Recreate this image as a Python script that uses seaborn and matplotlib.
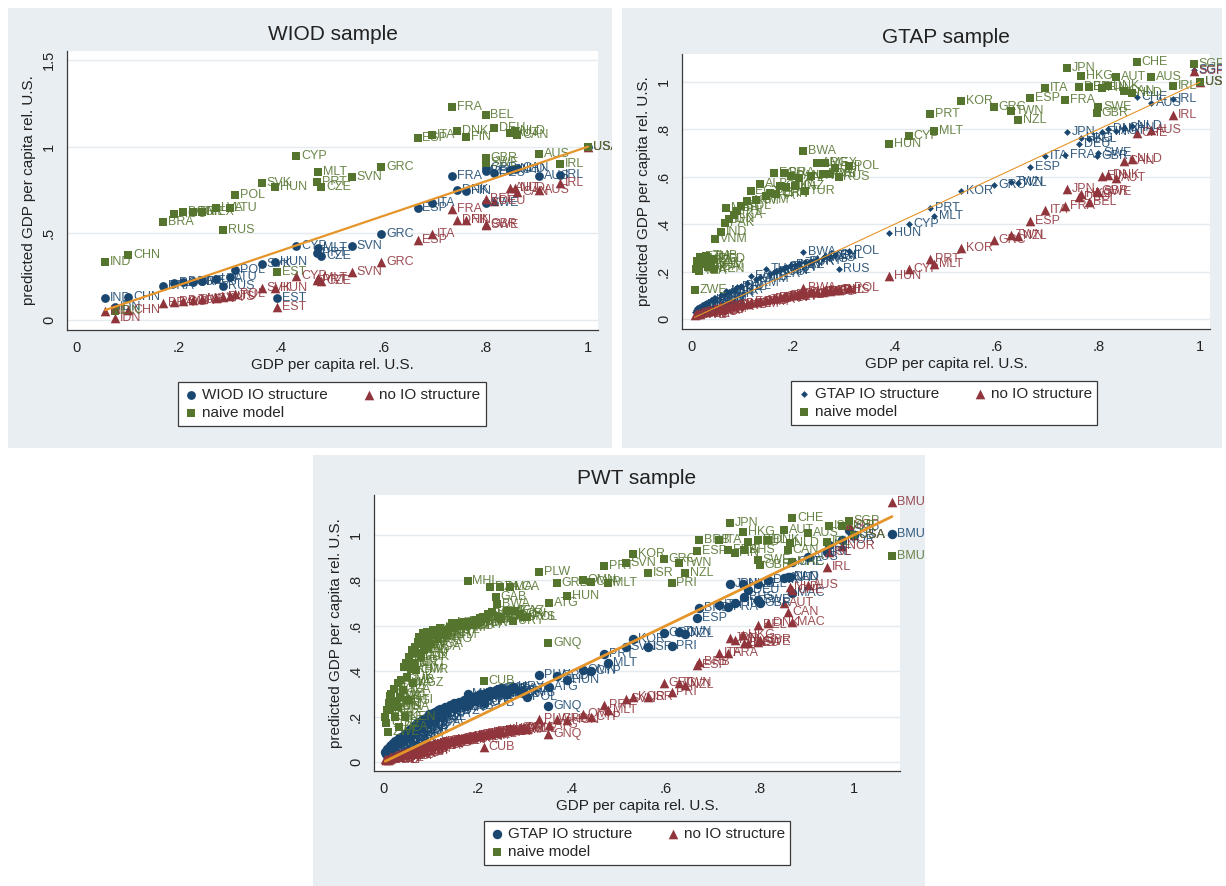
import matplotlib
matplotlib.use('Agg')
import matplotlib.pyplot as plt
import seaborn as sns
from matplotlib.patches import Rectangle
from matplotlib.transforms import Bbox, TransformedBbox

sns.set_theme(style='white')
plt.rcParams['font.family'] = ['Liberation Sans', 'DejaVu Sans']

######  Data

# WIOD sample
wiod_iso = ['IND', 'IDN', 'CHN', 'BRA', 'ROU', 'BGR', 'TUR', 'MEX', 'LVA', 'RUS', 'LTU', 'POL',
            'SVK', 'HUN', 'EST', 'CYP', 'PRT', 'MLT', 'CZE', 'SVN', 'GRC', 'ESP', 'ITA', 'FRA',
            'DNK', 'FIN', 'GBR', 'SWE', 'BEL', 'DEU', 'AUT', 'NLD', 'CAN', 'AUS', 'IRL', 'USA']
wiod_gdp = [0.057, 0.076, 0.102, 0.170, 0.191, 0.209, 0.228, 0.247, 0.274, 0.287, 0.300, 0.311,
            0.363, 0.389, 0.392, 0.430, 0.470, 0.472, 0.479, 0.539, 0.596, 0.667, 0.696, 0.735,
            0.745, 0.762, 0.800, 0.800, 0.800, 0.817, 0.847, 0.857, 0.862, 0.904, 0.946, 1.000]
wiod_io = [0.125, 0.075, 0.135, 0.198, 0.215, 0.221, 0.221, 0.225, 0.237, 0.198, 0.250, 0.287,
           0.325, 0.337, 0.125, 0.427, 0.385, 0.413, 0.371, 0.427, 0.494, 0.644, 0.677, 0.833,
           0.748, 0.744, 0.875, 0.673, 0.860, 0.846, 0.865, 0.870, 0.875, 0.833, 0.837, 1.000]
wiod_noio = [0.052, 0.013, 0.060, 0.096, 0.106, 0.112, 0.115, 0.119, 0.125, 0.131, 0.140, 0.148,
             0.187, 0.187, 0.077, 0.254, 0.231, 0.240, 0.225, 0.275, 0.333, 0.463, 0.498, 0.638,
             0.577, 0.577, 0.554, 0.548, 0.700, 0.687, 0.760, 0.760, 0.740, 0.750, 0.788, 1.000]
wiod_naive = [0.333, 0.050, 0.375, 0.567, 0.610, 0.621, 0.621, 0.625, 0.644, 0.519, 0.644, 0.721,
              0.788, 0.769, 0.279, 0.946, 0.798, 0.852, 0.767, 0.823, 0.881, 1.052, 1.067, 1.229,
              1.090, 1.058, 0.933, 0.905, 1.183, 1.110, 1.077, 1.090, 1.067, 0.960, 0.900, 1.000]

# GTAP sample
gtap_iso = ['ZWE', 'MWI', 'MOZ', 'TZA', 'ETH', 'UGA', 'MDG', 'ZMB', 'NGA', 'KHM', 'BGD', 'KEN',
            'VNM', 'IND', 'PAK', 'MAR', 'IDN', 'LKA', 'PHL', 'BOL', 'ARM', 'EGY', 'GTM', 'ALB',
            'THA', 'PER', 'ECU', 'CHN', 'COL', 'BRA', 'TUN', 'PAN', 'KAZ', 'ZAF', 'BWA', 'TUR',
            'URY', 'ARG', 'MYS', 'MEX', 'CRI', 'CHL', 'RUS', 'POL',
            'HUN', 'CYP', 'PRT', 'MLT', 'KOR', 'GRC', 'TWN', 'NZL', 'ESP', 'ITA', 'FRA', 'JPN',
            'DEU', 'HKG', 'BEL', 'GBR', 'SWE', 'FIN', 'DNK', 'AUT', 'CAN', 'NLD', 'CHE', 'AUS',
            'IRL', 'SGP', 'USA']
gtap_gdp = [0.007, 0.010, 0.012, 0.015, 0.018, 0.021, 0.025, 0.030, 0.034, 0.040, 0.044, 0.046,
            0.048, 0.059, 0.067, 0.069, 0.075, 0.085, 0.090, 0.098, 0.110, 0.117, 0.128, 0.136,
            0.147, 0.155, 0.163, 0.167, 0.175, 0.182, 0.186, 0.197, 0.205, 0.213, 0.220, 0.224,
            0.236, 0.247, 0.259, 0.263, 0.274, 0.282, 0.290, 0.310,
            0.389, 0.428, 0.469, 0.477, 0.530, 0.595, 0.628, 0.643, 0.666, 0.695, 0.735, 0.739,
            0.762, 0.766, 0.781, 0.797, 0.800, 0.808, 0.820, 0.835, 0.850, 0.866, 0.876, 0.904,
            0.946, 0.988, 1.000]
gtap_io = [0.030, 0.040, 0.045, 0.050, 0.045, 0.058, 0.060, 0.066, 0.070, 0.080, 0.075, 0.088,
           0.090, 0.100, 0.105, 0.118, 0.112, 0.122, 0.134, 0.138, 0.150, 0.183, 0.168, 0.178,
           0.211, 0.192, 0.198, 0.204, 0.208, 0.214, 0.218, 0.226, 0.230, 0.236, 0.281, 0.240,
           0.246, 0.252, 0.256, 0.264, 0.266, 0.272, 0.211, 0.288,
           0.365, 0.400, 0.470, 0.435, 0.538, 0.566, 0.576, 0.572, 0.643, 0.687, 0.690, 0.787,
           0.737, 0.765, 0.760, 0.688, 0.702, 0.790, 0.800, 0.793, 0.805, 0.815, 0.937, 0.911,
           0.930, 1.050, 1.000]
gtap_noio = [0.015, 0.020, 0.022, 0.025, 0.020, 0.028, 0.030, 0.032, 0.035, 0.038, 0.040, 0.045,
             0.043, 0.050, 0.052, 0.055, 0.055, 0.058, 0.060, 0.062, 0.065, 0.070, 0.072, 0.075,
             0.080, 0.085, 0.088, 0.090, 0.092, 0.095, 0.097, 0.100, 0.102, 0.105, 0.130, 0.110,
             0.112, 0.115, 0.116, 0.118, 0.120, 0.122, 0.124, 0.130,
             0.180, 0.211, 0.253, 0.232, 0.299, 0.333, 0.355, 0.351, 0.412, 0.459, 0.478, 0.548,
             0.513, 0.527, 0.492, 0.541, 0.534, 0.604, 0.608, 0.597, 0.667, 0.674, 0.785, 0.797,
             0.860, 1.046, 1.000]
gtap_naive = [0.124, 0.211, 0.245, 0.204, 0.260, 0.232, 0.253, 0.267, 0.218, 0.230, 0.255, 0.210,
              0.337, 0.369, 0.407, 0.468, 0.421, 0.440, 0.455, 0.478, 0.500, 0.541, 0.501, 0.569,
              0.520, 0.530, 0.614, 0.527, 0.560, 0.618, 0.555, 0.604, 0.562, 0.597, 0.709, 0.538,
              0.604, 0.660, 0.611, 0.660, 0.611, 0.639, 0.600, 0.646,
              0.737, 0.772, 0.867, 0.794, 0.920, 0.895, 0.878, 0.840, 0.934, 0.973, 0.924, 1.060,
              0.979, 1.025, 0.979, 0.871, 0.895, 0.973, 0.983, 1.021, 0.960, 0.955, 1.084, 1.020,
              0.983, 1.074, 1.000]

# PWT sample
pwt_iso = ['LBR', 'COD', 'BDI', 'ZWE', 'CAF', 'NER', 'MWI', 'MOZ', 'ETH', 'GIN', 'TGO', 'SLE',
           'MDG', 'UGA', 'RWA', 'BFA', 'MLI', 'GMB', 'TZA', 'NPL', 'KEN', 'BEN', 'TJK', 'HTI',
           'BGD', 'KHM', 'SEN', 'KGZ', 'MRT', 'LAO', 'CMR', 'YEM', 'ZMB', 'VNM', 'PAK', 'CIV',
           'NIC', 'IND', 'SDN', 'UZB', 'MDA', 'HND', 'NGA', 'COG', 'PHL', 'BOL', 'MNG', 'IDN',
           'LKA', 'GTM', 'SWZ', 'EGY', 'MAR', 'ARM', 'GEO', 'SLV', 'JAM', 'FJI', 'ALB', 'MHL',
           'ECU', 'CHN', 'PRY', 'DOM', 'TUN', 'PER', 'THA', 'CUB', 'COL', 'BLZ', 'DZA', 'BRA',
           'GAB', 'BWA', 'SRB', 'DMA', 'ZAF', 'MEX', 'LCA', 'URY', 'KAZ', 'CRI', 'MYS', 'POL',
           'PLW', 'GNQ', 'ATG', 'GRD', 'HUN', 'OMN', 'CYP', 'PRT', 'MLT', 'SVN', 'KOR', 'ISR',
           'GRC', 'PRI', 'TWN', 'NZL', 'ESP', 'BRB', 'ITA', 'FRA', 'JPN', 'FIN', 'HKG', 'BHS',
           'DEU', 'SWE', 'BEL', 'GBR', 'DNK', 'AUT', 'CAN', 'NLD', 'MAC', 'CHE', 'AUS', 'IRL',
           'ISL', 'NOR', 'SGP', 'USA', 'BMU']
pwt_gdp = [0.003, 0.005, 0.006, 0.008, 0.010, 0.012, 0.014, 0.016, 0.018, 0.020, 0.022, 0.024,
           0.026, 0.029, 0.031, 0.033, 0.035, 0.037, 0.040, 0.042, 0.045, 0.047, 0.049, 0.052,
           0.054, 0.057, 0.060, 0.062, 0.064, 0.066, 0.068, 0.070, 0.072, 0.075, 0.078, 0.080,
           0.083, 0.086, 0.089, 0.091, 0.094, 0.097, 0.100, 0.104, 0.108, 0.112, 0.116, 0.120,
           0.125, 0.130, 0.135, 0.140, 0.145, 0.150, 0.155, 0.160, 0.165, 0.170, 0.175, 0.178,
           0.182, 0.186, 0.190, 0.195, 0.200, 0.205, 0.210, 0.213, 0.218, 0.222, 0.226, 0.230,
           0.238, 0.240, 0.242, 0.247, 0.250, 0.263, 0.268, 0.275, 0.280, 0.290, 0.297, 0.305,
           0.331, 0.350, 0.352, 0.368, 0.389, 0.423, 0.440, 0.469, 0.477, 0.515, 0.530, 0.561,
           0.595, 0.612, 0.628, 0.641, 0.666, 0.670, 0.712, 0.733, 0.737, 0.746, 0.765, 0.767,
           0.775, 0.796, 0.796, 0.800, 0.817, 0.851, 0.859, 0.863, 0.868, 0.869, 0.903, 0.943,
           0.947, 0.975, 0.989, 1.000, 1.081]
pwt_io = [0.045, 0.035, 0.055, 0.040, 0.060, 0.050, 0.070, 0.075, 0.062, 0.085, 0.070, 0.090,
          0.078, 0.095, 0.084, 0.105, 0.090, 0.112, 0.098, 0.120, 0.106, 0.128, 0.115, 0.130,
          0.140, 0.122, 0.150, 0.135, 0.156, 0.162, 0.140, 0.170, 0.158, 0.176, 0.150, 0.182,
          0.188, 0.160, 0.195, 0.200, 0.172, 0.210, 0.185, 0.215, 0.222, 0.196, 0.228, 0.235,
          0.212, 0.240, 0.226, 0.250, 0.236, 0.258, 0.244, 0.265, 0.255, 0.272, 0.248, 0.299,
          0.262, 0.285, 0.270, 0.290, 0.278, 0.300, 0.286, 0.260, 0.305, 0.292, 0.312, 0.298,
          0.316, 0.306, 0.320, 0.310, 0.326, 0.300, 0.319, 0.330, 0.322, 0.310, 0.305, 0.287,
          0.385, 0.246, 0.328, 0.378, 0.363, 0.404, 0.400, 0.475, 0.438, 0.507, 0.540, 0.507,
          0.566, 0.510, 0.574, 0.562, 0.635, 0.676, 0.690, 0.684, 0.782, 0.699, 0.784, 0.728,
          0.757, 0.713, 0.784, 0.699, 0.801, 0.809, 0.816, 0.816, 0.743, 0.882, 0.904, 0.926,
          0.956, 0.978, 1.020, 1.000, 1.003]
pwt_noio = [0.012, 0.008, 0.015, 0.010, 0.015, 0.012, 0.020, 0.018, 0.022, 0.020, 0.025, 0.024,
            0.028, 0.030, 0.026, 0.032, 0.034, 0.030, 0.036, 0.038, 0.040, 0.035, 0.042, 0.044,
            0.040, 0.046, 0.048, 0.044, 0.050, 0.052, 0.054, 0.050, 0.056, 0.058, 0.060, 0.062,
            0.064, 0.066, 0.068, 0.070, 0.072, 0.074, 0.076, 0.078, 0.080, 0.082, 0.084, 0.086,
            0.088, 0.090, 0.092, 0.094, 0.096, 0.098, 0.100, 0.102, 0.104, 0.106, 0.108, 0.103,
            0.110, 0.112, 0.114, 0.116, 0.118, 0.120, 0.122, 0.066, 0.124, 0.126, 0.128, 0.130,
            0.130, 0.132, 0.134, 0.136, 0.138, 0.140, 0.150, 0.142, 0.145, 0.148, 0.150, 0.147,
            0.187, 0.122, 0.162, 0.191, 0.184, 0.209, 0.200, 0.250, 0.228, 0.279, 0.287, 0.287,
            0.346, 0.309, 0.349, 0.340, 0.426, 0.441, 0.478, 0.478, 0.544, 0.537, 0.559, 0.522,
            0.522, 0.529, 0.603, 0.537, 0.610, 0.699, 0.662, 0.772, 0.618, 0.757, 0.779, 0.860,
            0.926, 0.950, 1.044, 1.000, 1.147]
pwt_naive = [0.199, 0.170, 0.230, 0.132, 0.260, 0.228, 0.290, 0.301, 0.240, 0.257, 0.320, 0.199,
             0.270, 0.243, 0.346, 0.154, 0.287, 0.360, 0.316, 0.419, 0.199, 0.434, 0.375, 0.272,
             0.463, 0.410, 0.493, 0.346, 0.434, 0.507, 0.404, 0.480, 0.530, 0.551, 0.463, 0.520,
             0.566, 0.493, 0.540, 0.574, 0.507, 0.551, 0.520, 0.581, 0.560, 0.566, 0.540, 0.588,
             0.570, 0.560, 0.581, 0.595, 0.610, 0.590, 0.605, 0.610, 0.600, 0.615, 0.600, 0.797,
             0.610, 0.618, 0.605, 0.625, 0.610, 0.635, 0.640, 0.356, 0.630, 0.650, 0.769, 0.662,
             0.728, 0.696, 0.640, 0.769, 0.630, 0.663, 0.769, 0.620, 0.666, 0.650, 0.640, 0.640,
             0.835, 0.525, 0.699, 0.787, 0.732, 0.801, 0.794, 0.863, 0.787, 0.875, 0.915, 0.831,
             0.893, 0.790, 0.875, 0.834, 0.929, 0.978, 0.978, 0.934, 1.051, 0.919, 1.015, 0.934,
             0.971, 0.890, 0.978, 0.868, 0.978, 1.022, 0.934, 0.963, 0.880, 1.076, 1.007, 0.970,
             1.040, 1.040, 1.063, 1.000, 0.907]

# Stata s2color-like colours
c_io = '#1a476f'
c_noio = '#90353b'
c_naive = '#55752f'
c_line = '#e5952a'
c_bg = '#e8eef2'
c_grid = '#e4eaee'

W, H = 1226, 886
fig = plt.figure(figsize=(W / 100, H / 100), dpi=100)


def px_rect(x0, y0, x1, y1):
    # pixel box (top-left origin) -> figure fraction [left, bottom, width, height]
    return [x0 / W, 1 - y1 / H, (x1 - x0) / W, (y1 - y0) / H]


def draw_panel(bg_px, ax_px, title, iso, gdp, io, noio, naive, io_name, io_marker, io_size,
               xlim, ylim, yticks, yticklabels, lw, leg_center):
    # light blue graph region behind the white plot region
    bg = Rectangle((bg_px[0] / W, 1 - bg_px[3] / H), (bg_px[2] - bg_px[0]) / W,
                   (bg_px[3] - bg_px[1]) / H, transform=fig.transFigure,
                   facecolor=c_bg, edgecolor='none', zorder=-5)
    fig.add_artist(bg)
    clip = TransformedBbox(Bbox.from_extents(bg_px[0] / W, 1 - bg_px[3] / H,
                                             bg_px[2] / W, 1 - bg_px[1] / H), fig.transFigure)

    ax = fig.add_axes(px_rect(*ax_px))
    ax.set_facecolor('white')

    sns.scatterplot(x=gdp, y=io, marker=io_marker, s=io_size, color=c_io, linewidth=0,
                    label=io_name, ax=ax, zorder=3)
    sns.scatterplot(x=gdp, y=noio, marker='^', s=48, color=c_noio, linewidth=0,
                    label='no IO structure', ax=ax, zorder=3)
    sns.scatterplot(x=gdp, y=naive, marker='s', s=40, color=c_naive, linewidth=0,
                    label='naive model', ax=ax, zorder=3)

    # country labels to the right of each marker
    for vals, col in [(io, c_io), (noio, c_noio), (naive, c_naive)]:
        for code, xv, yv in zip(iso, gdp, vals):
            t = ax.annotate(code, (xv, yv), xytext=(3.5, 0), textcoords='offset points',
                            va='center', ha='left', fontsize=9, color=col, alpha=0.88,
                            zorder=4, annotation_clip=False)
            t.set_clip_box(clip)
            t.set_clip_on(True)

    # 45 degree line over the data range
    lo, hi = min(gdp), max(gdp)
    ax.plot([lo, hi], [lo, hi], color=c_line, lw=lw, zorder=5)

    ax.set_xlim(xlim)
    ax.set_ylim(ylim)
    ax.set_xticks([0, 0.2, 0.4, 0.6, 0.8, 1])
    ax.set_xticklabels(['0', '.2', '.4', '.6', '.8', '1'])
    ax.set_yticks(yticks)
    ax.set_yticklabels(yticklabels, rotation=90, va='center')
    ax.yaxis.grid(True, color=c_grid, lw=1)
    ax.xaxis.grid(False)
    ax.set_axisbelow(True)
    for side in ['top', 'right']:
        ax.spines[side].set_visible(False)
    for side in ['left', 'bottom']:
        ax.spines[side].set_color('#3a3a3a')
        ax.spines[side].set_linewidth(0.9)
    ax.tick_params(axis='both', direction='out', length=5, width=0.9, color='#3a3a3a',
                   labelsize=10.5, labelcolor='#222222', pad=3)
    ax.set_xlabel('GDP per capita rel. U.S.', fontsize=11, color='#222222', labelpad=2)
    ax.set_ylabel('predicted GDP per capita rel. U.S.', fontsize=11, color='#222222', labelpad=4)
    ax.set_title(title, fontsize=15, color='#222222', pad=8)

    handles, labels = ax.get_legend_handles_labels()
    order = [0, 2, 1]
    leg = ax.legend([handles[i] for i in order], [labels[i] for i in order], ncol=2,
                    loc='center', bbox_to_anchor=(leg_center[0] / W, 1 - leg_center[1] / H),
                    bbox_transform=fig.transFigure, fontsize=11, frameon=True, fancybox=False,
                    framealpha=1, edgecolor='#3a3a3a', handletextpad=0.2, columnspacing=2.2,
                    borderpad=0.35, labelspacing=0.3, handlelength=1.0)
    leg.get_frame().set_linewidth(0.9)
    return ax


draw_panel((8, 8, 612, 448), (67, 51, 598, 330), 'WIOD sample',
           wiod_iso, wiod_gdp, wiod_io, wiod_noio, wiod_naive, 'WIOD IO structure', 'o', 40,
           (-0.0176, 1.0195), (-0.058, 1.552), [0, 0.5, 1, 1.5], ['0', '.5', '1', '1.5'],
           1.6, (332, 404))

draw_panel((622, 8, 1222, 448), (682, 54, 1210, 329), 'GTAP sample',
           gtap_iso, gtap_gdp, gtap_io, gtap_noio, gtap_naive, 'GTAP IO structure', 'D', 12,
           (-0.0177, 1.0196), (-0.042, 1.118), [0, 0.2, 0.4, 0.6, 0.8, 1],
           ['0', '.2', '.4', '.6', '.8', '1'], 0.8, (944, 403))

draw_panel((313, 455, 925, 886), (374, 495, 900, 771), 'PWT sample',
           pwt_iso, pwt_gdp, pwt_io, pwt_noio, pwt_naive, 'GTAP IO structure', 'o', 46,
           (-0.021, 1.098), (-0.04, 1.176), [0, 0.2, 0.4, 0.6, 0.8, 1],
           ['0', '.2', '.4', '.6', '.8', '1'], 2.0, (637, 843))

plt.savefig('out.png', dpi=100)
